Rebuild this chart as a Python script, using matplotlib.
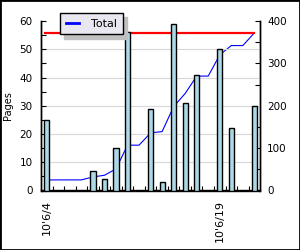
import numpy as np
import matplotlib.pyplot as plt
from matplotlib.lines import Line2D
from matplotlib.patches import Rectangle

plt.switch_backend('Agg')
plt.rcParams['font.family'] = 'DejaVu Sans'
plt.rcParams['font.size'] = 7

# Du lieu doc tu hinh
days = ["10'6/4", "10'6/5", "10'6/6", "10'6/7", "10'6/8", "10'6/9", "10'6/10",
        "10'6/11", "10'6/12", "10'6/13", "10'6/14", "10'6/15", "10'6/16",
        "10'6/17", "10'6/18", "10'6/19", "10'6/20", "10'6/21", "10'6/22"]
shown_days = ["10'6/4", "10'6/19"]
pages = [25, 0, 0, 0, 7, 4, 15, 56, 0, 29, 3, 59, 31, 41, 0, 50, 22, 0, 30]
total = [25, 25, 25, 25, 32, 36, 51, 107, 107, 136, 139, 198, 229, 270, 270,
         320, 342, 342, 372]
goal = 372

x = np.arange(len(days))

fig = plt.figure(figsize=(3.0, 2.5), dpi=100)
ax = fig.add_axes([0.137, 0.238, 0.73, 0.678])
ax2 = ax.twinx()

# duong tong (truc phai) nam duoi cac cot
ax2.plot(x, total, color='blue', linewidth=0.8)
ax2.plot([x[0] - 0.2, x[-1]], [goal, goal], color='red', linewidth=1.6)
ax2.set_ylim(0, 400)
ax2.set_yticks(np.arange(0, 401, 100))
ax2.set_yticks(np.arange(0, 401, 50), minor=True)

# cot (truc trai) ve phia tren
ax.set_zorder(ax2.get_zorder() + 1)
ax.patch.set_visible(False)
pos = [x[i] for i in range(len(days)) if pages[i] > 0]
vals = [p for p in pages if p > 0]
ax.bar(pos, vals, width=0.45, color='lightblue', edgecolor='black',
       linewidth=1.0, zorder=3)
ax.set_ylim(0, 60)
ax.set_xlim(-0.5, len(days) - 0.5)
ax.set_yticks(np.arange(0, 61, 10))
ax.set_yticks(np.arange(0, 61, 5), minor=True)
ax.set_ylabel('Pages', fontsize=7, labelpad=5)
ax.yaxis.grid(True, color='#d8d8d8', linewidth=0.8, zorder=0)
ax.get_ygridlines()[-1].set_visible(False)
ax.get_ygridlines()[0].set_visible(False)

# truc x: vach o ranh gioi, nhan o giua
ax.set_xticks(np.arange(0.5, len(days) - 0.5, 1.0))
ax.set_xticklabels([])
ax.set_xticks([days.index(d) for d in shown_days], minor=True)
ax.set_xticklabels(shown_days, minor=True, rotation=90, fontsize=8)
ax.tick_params(axis='x', which='major', direction='in', length=3.6, width=0.8)
ax.tick_params(axis='x', which='minor', length=0, pad=7)

ax.tick_params(axis='y', which='both', direction='in', length=3.6, width=0.8,
               pad=6, labelsize=7.5)
ax2.tick_params(axis='y', which='both', direction='in', length=3.6, width=0.8,
                pad=5, labelsize=7.5)

for a in (ax, ax2):
    a.spines['top'].set_visible(False)
    for s in ('left', 'right', 'bottom'):
        a.spines[s].set_linewidth(1.0)

# chu giai
handle = Line2D([], [], color='blue', linewidth=2)
leg = fig.legend([handle], ['Total'], loc='upper left',
                 bbox_to_anchor=(0.2, 0.947), borderaxespad=0, fontsize=8,
                 handlelength=1.2, handletextpad=1.1, borderpad=0.5,
                 frameon=True, fancybox=False,
                 shadow={'color': '#c0c0c0', 'alpha': 1, 'ox': 3, 'oy': -3})
leg.get_frame().set_facecolor('#e9e7ef')
leg.get_frame().set_edgecolor('black')
leg.get_frame().set_linewidth(1.0)
leg.get_frame().set_alpha(1)

# khung ngoai
fig.patches.append(Rectangle((0, 0), 1, 1, transform=fig.transFigure,
                             fill=False, edgecolor='black', linewidth=2))

fig.savefig('out.png', dpi=100)
plt.close(fig)
